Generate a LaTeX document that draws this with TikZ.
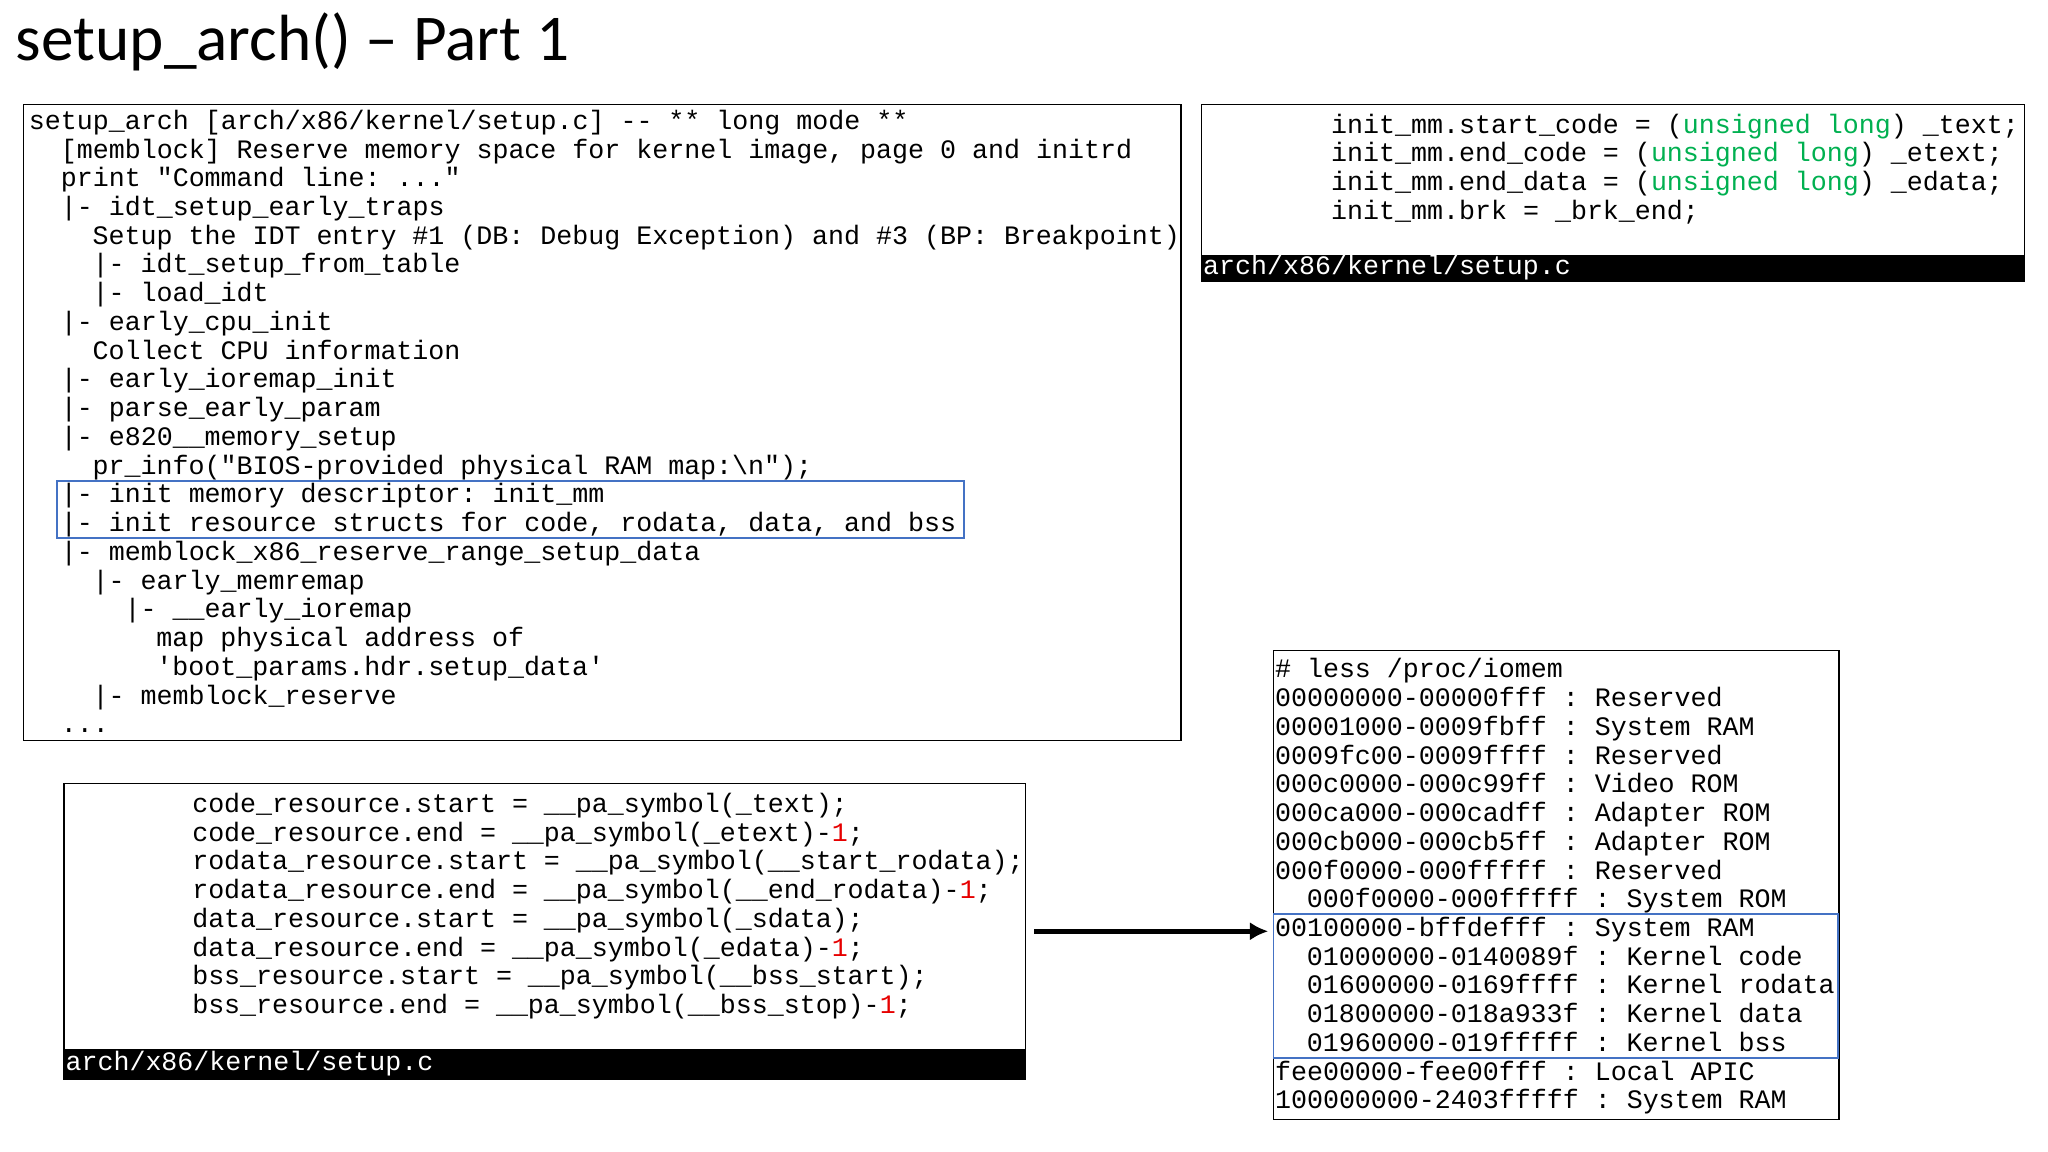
\documentclass[tikz,border=0pt]{standalone}
\usepackage{fontspec}
\usetikzlibrary{arrows.meta}
\setmainfont{Carlito}
\setmonofont{Liberation Mono}
\definecolor{bluebox}{RGB}{68,114,196}
\definecolor{kwgreen}{RGB}{0,176,80}
\definecolor{numred}{RGB}{230,0,0}
\newcommand{\cl}[4]{\node[code,anchor=base west] (#1) at ({#2},{#3+7}) {#4};}
\begin{document}
\begin{tikzpicture}[x=1pt,y=-1pt,
  code/.style={inner sep=0pt,font=\ttfamily\fontsize{20.4}{22}\selectfont},
  frame/.style={draw=black,line width=1.2pt},
  path/.style={inner sep=0pt,anchor=west,text=white,font=\ttfamily\fontsize{20.4}{22}\selectfont}]
\useasboundingbox (0,0) rectangle (1568,882);
\node[anchor=west,inner sep=0pt,font=\fontsize{50}{56}\selectfont] (title) at (12,32) {setup\_arch() – Part 1};
% main box
\draw[frame] (18,80) rectangle (904,567);
\def\cw{12.2}
\cl{a0}{22}{92}{setup\_arch [arch/x86/kernel/setup.c] -- ** long mode **}
\cl{a1}{22+2*\cw}{114}{[memblock] Reserve memory space for kernel image, page 0 and initrd}
\cl{a2}{22+2*\cw}{136}{print "Command line: ..."}
\cl{a3}{22+2*\cw}{158}{|- idt\_setup\_early\_traps}
\cl{a4}{22+4*\cw}{180}{Setup the IDT entry \#1 (DB: Debug Exception) and \#3 (BP: Breakpoint)}
\cl{a5}{22+4*\cw}{202}{|- idt\_setup\_from\_table}
\cl{a6}{22+4*\cw}{224}{|- load\_idt}
\cl{a7}{22+2*\cw}{246}{|- early\_cpu\_init}
\cl{a8}{22+4*\cw}{268}{Collect CPU information}
\cl{a9}{22+2*\cw}{290}{|- early\_ioremap\_init}
\cl{a10}{22+2*\cw}{312}{|- parse\_early\_param}
\cl{a11}{22+2*\cw}{334}{|- e820\_\_memory\_setup}
\cl{a12}{22+4*\cw}{356}{pr\_info("BIOS-provided physical RAM map:\textbackslash n");}
\cl{a13}{22+2*\cw}{378}{|- init memory descriptor: init\_mm}
\cl{a14}{22+2*\cw}{400}{|- init resource structs for code, rodata, data, and bss}
\cl{a15}{22+2*\cw}{422}{|- memblock\_x86\_reserve\_range\_setup\_data}
\cl{a16}{22+4*\cw}{444}{|- early\_memremap}
\cl{a17}{22+6*\cw}{466}{|- \_\_early\_ioremap}
\cl{a18}{22+8*\cw}{488}{map physical address of}
\cl{a19}{22+8*\cw}{510}{'boot\_params.hdr.setup\_data'}
\cl{a20}{22+4*\cw}{532}{|- memblock\_reserve}
\cl{a21}{22+2*\cw}{554}{...}
\draw[bluebox,line width=1.5pt] (44,368) rectangle (738,412);
% top right box
\draw[frame] (920,80) rectangle (1550,215);
\fill[black] (920,195) rectangle (1550,215);
\node[path] (p1) at (921,205) {arch/x86/kernel/setup.c};
\cl{b0}{1019}{95}{init\_mm.start\_code = (\textcolor{kwgreen}{unsigned long}) \_text;}
\cl{b1}{1019}{117}{init\_mm.end\_code = (\textcolor{kwgreen}{unsigned long}) \_etext;}
\cl{b2}{1019}{139}{init\_mm.end\_data = (\textcolor{kwgreen}{unsigned long}) \_edata;}
\cl{b3}{1019}{161}{init\_mm.brk = \_brk\_end;}
% bottom left box
\draw[frame] (49,600) rectangle (785,826);
\fill[black] (49,803) rectangle (785,826);
\node[path] (p2) at (50,814) {arch/x86/kernel/setup.c};
\cl{c0}{147}{615}{code\_resource.start = \_\_pa\_symbol(\_text);}
\cl{c1}{147}{637}{code\_resource.end = \_\_pa\_symbol(\_etext)-\textcolor{numred}{1};}
\cl{c2}{147}{659}{rodata\_resource.start = \_\_pa\_symbol(\_\_start\_rodata);}
\cl{c3}{147}{681}{rodata\_resource.end = \_\_pa\_symbol(\_\_end\_rodata)-\textcolor{numred}{1};}
\cl{c4}{147}{703}{data\_resource.start = \_\_pa\_symbol(\_sdata);}
\cl{c5}{147}{725}{data\_resource.end = \_\_pa\_symbol(\_edata)-\textcolor{numred}{1};}
\cl{c6}{147}{747}{bss\_resource.start = \_\_pa\_symbol(\_\_bss\_start);}
\cl{c7}{147}{769}{bss\_resource.end = \_\_pa\_symbol(\_\_bss\_stop)-\textcolor{numred}{1};}
% right box
\draw[frame] (975,498) rectangle (1408,857);
\cl{d0}{976}{512}{\# less /proc/iomem}
\cl{d1}{976}{534}{00000000-00000fff : Reserved}
\cl{d2}{976}{556}{00001000-0009fbff : System RAM}
\cl{d3}{976}{578}{0009fc00-0009ffff : Reserved}
\cl{d4}{976}{600}{000c0000-000c99ff : Video ROM}
\cl{d5}{976}{622}{000ca000-000cadff : Adapter ROM}
\cl{d6}{976}{644}{000cb000-000cb5ff : Adapter ROM}
\cl{d7}{976}{666}{000f0000-000fffff : Reserved}
\cl{d8}{976+2*\cw}{688}{000f0000-000fffff : System ROM}
\cl{d9}{976}{710}{00100000-bffdefff : System RAM}
\cl{d10}{976+2*\cw}{732}{01000000-0140089f : Kernel code}
\cl{d11}{976+2*\cw}{754}{01600000-0169ffff : Kernel rodata}
\cl{d12}{976+2*\cw}{776}{01800000-018a933f : Kernel data}
\cl{d13}{976+2*\cw}{798}{01960000-019fffff : Kernel bss}
\cl{d14}{976}{820}{fee00000-fee00fff : Local APIC}
\cl{d15}{976}{842}{100000000-2403fffff : System RAM}
\draw[bluebox,line width=1.5pt] (975,700) rectangle (1407,810);
\coordinate (s) at (792,713);
\coordinate (t) at (971,713);
\draw[line width=3.5pt,-{Latex[length=14pt,width=14pt]}] (s) -- (t);
\end{tikzpicture}
\end{document}
